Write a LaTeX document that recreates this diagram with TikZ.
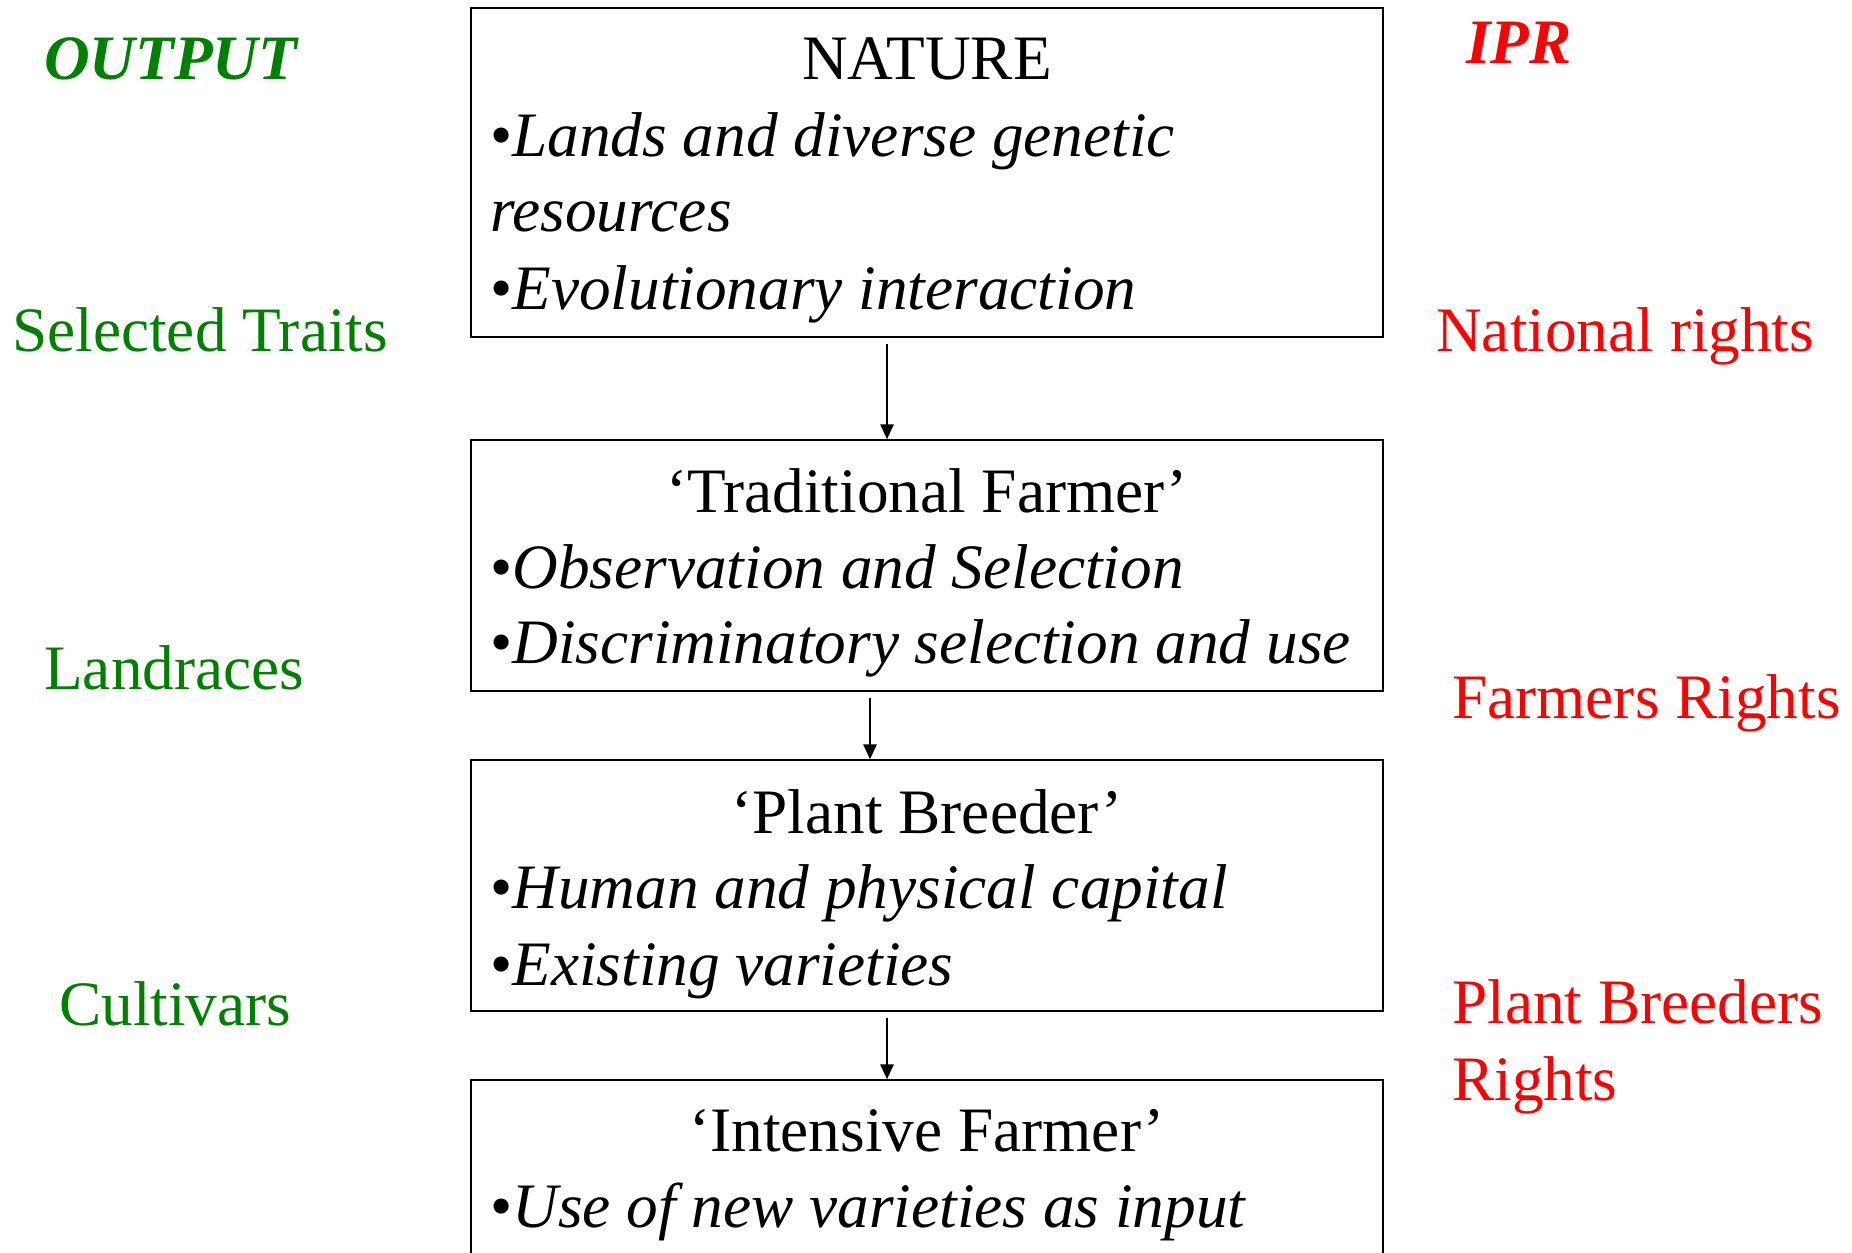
\documentclass[tikz,border=0pt]{standalone}
\usepackage{fontspec}
\setmainfont{Liberation Serif}
\usetikzlibrary{positioning,calc,arrows.meta}
\definecolor{outgreen}{HTML}{008000}
\definecolor{iprred}{HTML}{FF0000}

\begin{document}
\begin{tikzpicture}[
  x=0.025cm, y=-0.025cm,
  stage/.style={rectangle, draw=black, line width=1.1pt, inner sep=0pt,
    minimum width=22.8cm, minimum height=#1},
  heading/.style={anchor=base, inner sep=0pt, font=\fontsize{45}{54}\selectfont},
  point/.style={anchor=base west, inner sep=0pt, font=\fontsize{45}{54}\selectfont\itshape},
  side/.style={anchor=base west, inner sep=0pt, text=#1, font=\fontsize{45}{54}\selectfont},
  flow/.style={-{Triangle[length=10.5pt,width=9.5pt]}, line width=1pt, shorten <=0.15cm}
]
\useasboundingbox (0,0) rectangle (1852,1253);

% stages
\node[stage=8.225cm] (nature) at (927,172.5) {};
\node[stage=6.275cm] (trad) at (927,565.5) {};
\node[stage=6.275cm] (breeder) at (927,885.5) {};
\node[stage=6.275cm] (intensive) at (927,1205.5) {};

\node[heading] (natureT) at (927,80) {NATURE};
\node[point] (natureA) at (490,157) {\textup{\textbullet}Lands and diverse genetic};
\node[point] (natureA2) at (490,232) {resources};
\node[point] (natureB) at (490,310) {\textup{\textbullet}Evolutionary interaction};

\node[heading] (tradT) at (927,512) {`Traditional Farmer'};
\node[point] (tradA) at (490,588) {\textup{\textbullet}Observation and Selection};
\node[point] (tradB) at (490,663) {\textup{\textbullet}Discriminatory selection and use};

\node[heading] (breederT) at (927,833) {`Plant Breeder'};
\node[point] (breederA) at (490,908) {\textup{\textbullet}Human and physical capital};
\node[point] (breederB) at (490,985) {\textup{\textbullet}Existing varieties};

\node[heading] (intensiveT) at (927,1151) {`Intensive Farmer'};
\node[point] (intensiveA) at (490,1227) {\textup{\textbullet}Use of new varieties as input};

% arrows between stages
\draw[flow] ([xshift=-1cm]nature.south) -- ([xshift=-1cm]trad.north);
\draw[flow] ([xshift=-1.425cm]trad.south) -- ([xshift=-1.425cm]breeder.north);
\draw[flow] ([xshift=-1cm]breeder.south) -- ([xshift=-1cm]intensive.north);

% output column
\node[side=outgreen, font=\fontsize{45}{54}\selectfont\bfseries\itshape] (output) at (44,80) {OUTPUT};
\node[side=outgreen] (traits) at (12,352) {Selected Traits};
\node[side=outgreen] (landraces) at (44,689) {Landraces};
\node[side=outgreen] (cultivars) at (59,1025) {Cultivars};

% IPR column
\node[side=iprred, font=\fontsize{45}{54}\selectfont\bfseries\itshape] (ipr) at (1466,64) {IPR};
\node[side=iprred] (national) at (1436,352) {National rights};
\node[side=iprred] (farmers) at (1452,718) {Farmers Rights};
\node[side=iprred] (pbr) at (1452,1023) {Plant Breeders};
\node[side=iprred] (pbr2) at (1452,1100) {Rights};
\end{tikzpicture}
\end{document}
